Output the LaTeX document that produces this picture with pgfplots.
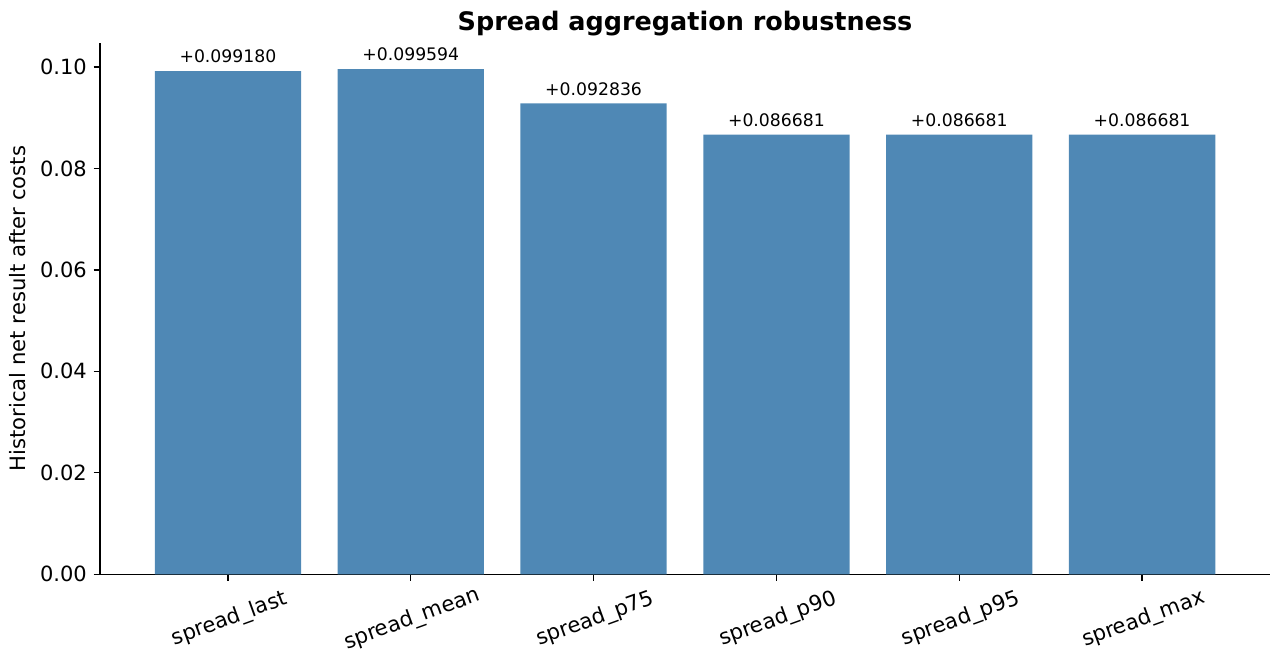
\documentclass[border=0pt]{standalone}
\usepackage{pgfplots}
\pgfplotsset{compat=1.18}
\usepackage{pgfplotstable}
\usepackage{fontspec}
\setmainfont{DejaVu Sans}
\definecolor{barblue}{RGB}{79,136,181}
\pgfplotstableread{
x val lab
0 0.099180 +0.099180
1 0.099594 +0.099594
2 0.092836 +0.092836
3 0.086681 +0.086681
4 0.086681 +0.086681
5 0.086681 +0.086681
}\datatab
\begin{document}
\begin{tikzpicture}
\begin{axis}[
  scale only axis,
  width=597pt, height=271pt,
  xmin=-0.7, xmax=5.7,
  ymin=0, ymax=0.1047,
  axis lines*=left,
  axis line style={line width=0.65pt},
  tick style={line width=0.65pt, black},
  tick align=outside,
  major tick length=3.2pt,
  xtick=data,
  xticklabels={spread\_last,spread\_mean,spread\_p75,spread\_p90,spread\_p95,spread\_max},
  x tick label style={rotate=20, anchor=north, font=\fontsize{10.8}{13}\selectfont, xshift=-6pt, yshift=-10pt},
  ytick={0,0.02,0.04,0.06,0.08,0.10},
  yticklabel style={/pgf/number format/fixed, /pgf/number format/fixed zerofill, /pgf/number format/precision=2, font=\fontsize{10.7}{13}\selectfont},
  /pgf/number format/assume math mode=true,
  scaled y ticks=false,
  ylabel={Historical net result after costs},
  title={Spread aggregation robustness},
  title style={font=\bfseries\fontsize{13}{15}\selectfont, yshift=-6pt},
  every axis y label/.style={at={(axis description cs:-0.07,0.5)}, rotate=90, anchor=center, font=\fontsize{10.8}{13}\selectfont},
  clip=false,
]
\addplot[ybar, bar width=0.8, fill=barblue, draw=none,
  point meta=explicit symbolic,
  nodes near coords={\pgfplotspointmeta},
  every node near coord/.append style={font=\fontsize{8.8}{10}\selectfont, black, yshift=0.5pt}]
  table[x=x, y=val, meta=lab] {\datatab};
\end{axis}
\path (current axis.south west) ++(-51pt,-41pt) coordinate (bl);
\path (current axis.north east) ++(2pt,22pt) coordinate (tr);
\path (bl) rectangle (tr);
\end{tikzpicture}
\end{document}
